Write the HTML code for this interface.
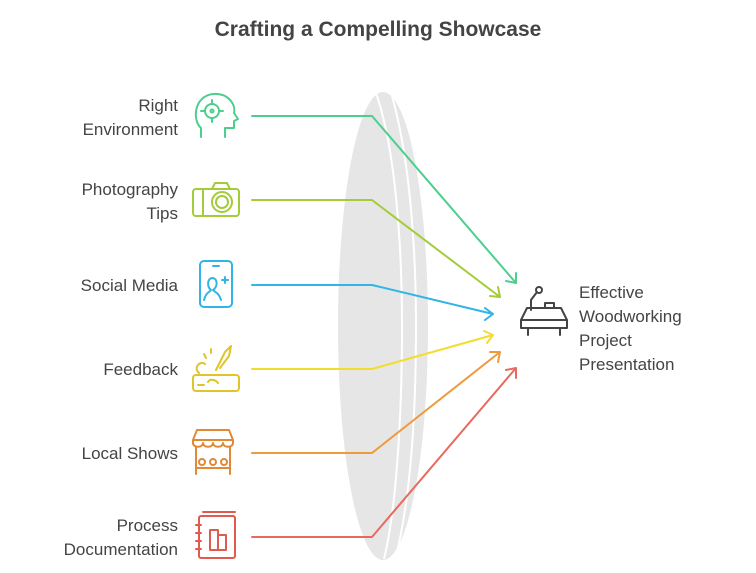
<!DOCTYPE html>
<html><head><meta charset="utf-8"><style>
body{margin:0;background:#fff;}
svg{display:block}
text{font-family:"Liberation Sans",sans-serif;fill:#444;}
</style></head><body>
<svg width="756" height="573" viewBox="0 0 756 573" xmlns="http://www.w3.org/2000/svg">
<text x="378" y="36" text-anchor="middle" font-size="21" font-weight="bold" fill="#3a3a3a">Crafting a Compelling Showcase</text>
<!-- lens -->
<ellipse cx="383" cy="326" rx="45" ry="234" fill="#e6e6e6"/>
<path d="M376 93 C396 150 402 250 402 326 C402 420 396 510 384 559" fill="none" stroke="#fff" stroke-width="2"/>
<path d="M392 96 C410 160 416 250 416 326 C416 420 410 500 396 556" fill="none" stroke="#fff" stroke-width="2"/>
<g fill="none" stroke-width="2" stroke-linecap="round" stroke-linejoin="round">
<path d="M252 116 H372 L516 283 M506 281 L516 283 L516 273" stroke="#4ccf8e"/>
<path d="M252 200 H372 L500 297 M490 296 L500 297 L498 287" stroke="#a3cc3a"/>
<path d="M252 285 H372 L493 314 M485 308 L493 314 L485 320" stroke="#2fb5e6"/>
<path d="M252 369 H372 L493 335 M484 331 L493 335 L487 343" stroke="#f2dd2e"/>
<path d="M252 453 H372 L500 352 M490 352 L500 352 L498 362" stroke="#ee9a3e"/>
<path d="M252 537 H372 L516 368 M506 370 L516 368 L516 378" stroke="#e86a5e"/>
</g>
<g font-size="17" text-anchor="end">
<text x="178" y="111">Right</text><text x="178" y="135">Environment</text>
<text x="178" y="195">Photography</text><text x="178" y="219">Tips</text>
<text x="178" y="291">Social Media</text>
<text x="178" y="375">Feedback</text>
<text x="178" y="459">Local Shows</text>
<text x="178" y="531">Process</text><text x="178" y="555">Documentation</text>
</g>
<g font-size="17">
<text x="579" y="298">Effective</text><text x="579" y="322">Woodworking</text>
<text x="579" y="346">Project</text><text x="579" y="370">Presentation</text>
</g>
<g fill="none" stroke-width="2" stroke-linecap="round" stroke-linejoin="round">
<g stroke="#4ccf8e"><path d="M201 137 V128 C192 120 194 96 213 94 C228 93 236 104 234 113 L238 119 L234 121 V128 H225 V137"/><circle cx="212" cy="111" r="7"/><circle cx="212" cy="111" r="1.5"/><path d="M212 100 V104 M212 118 V122 M201 111 H205 M219 111 H223"/></g>
<g stroke="#a3cc3a"><rect x="193" y="189" width="46" height="27" rx="3"/><path d="M203 189 V216 M212 189 L215 183 H227 L230 189"/><circle cx="222" cy="202" r="10"/><circle cx="222" cy="202" r="6"/></g>
<g stroke="#2fb5e6"><rect x="200" y="261" width="32" height="46" rx="4"/><path d="M213 266 H219 M204 300 C206 292 210 292 211 290 C207 287 207 279 212 278 C218 278 218 287 213 290 C215 292 219 293 221 300 M222 280 H228 M225 277 V283"/></g>
<g stroke="#e0c52a"><rect x="193" y="375" width="46" height="16" rx="3"/><path d="M198 385 H204 M208 382 C210 378 216 380 218 383 M199 373 C193 368 200 360 205 364 M216 370 L225 352 L231 346 L229 356 L220 368 M204 354 L206 358 M211 349 V353"/></g>
<g stroke="#e08a35"><path d="M193 440 V443 C193 448 203 448 203 443 C203 448 213 448 213 443 C213 448 223 448 223 443 C223 448 233 448 233 443 V440 L229 430 H197 Z M193 440 H233 M196 447 V474 M230 447 V474 M196 468 H230"/><circle cx="202" cy="462" r="3"/><circle cx="213" cy="462" r="3"/><circle cx="224" cy="462" r="3"/></g>
<g stroke="#e05a50"><rect x="199" y="516" width="36" height="42" rx="2"/><path d="M203 512 H235 M196 525 H201 M196 533 H201 M196 541 H201 M196 549 H201 M210 530 H218 V550 H210 Z M218 535 H226 V550 H218"/></g>
<g stroke="#444"><path d="M521 320 L527 308 H561 L567 320 V328 H521 Z M521 320 H567 M528 328 V335 M560 328 V335 M531 310 V300 L537 292 M545 308 V303 H554 V308"/><circle cx="539" cy="290" r="3"/></g>
</g>
</svg>
</body></html>
